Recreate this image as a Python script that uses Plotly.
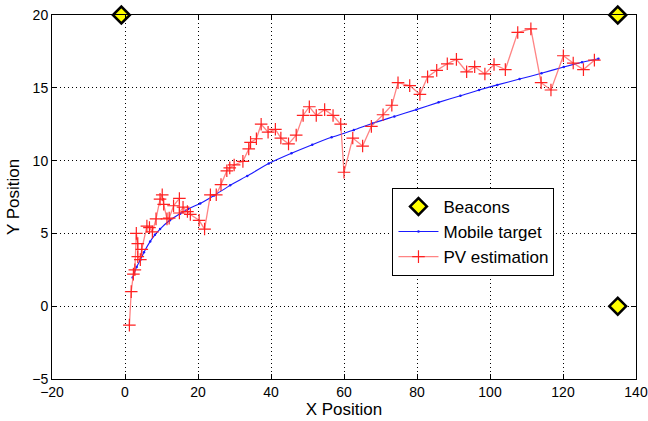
import plotly.graph_objects as go

# Beacon positions
beacon_x = [-1, 135, 135]
beacon_y = [20, 20, 0]

# True trajectory of the mobile target
target_x = [2.1, 3.2, 4.2, 5.2, 6.9, 8.2, 9.6, 12.3, 15.1, 17.3, 20.6, 24.4, 28.8, 33.5,
            39.4, 45.6, 51.3, 56.6, 62.7, 67.7, 73.8, 79.8, 85.9, 91.9, 97.0, 102.0, 108.1,
            114.1, 120.2, 125.2, 129.7]
target_y = [1.97, 2.7, 3.18, 3.7, 4.45, 4.9, 5.3, 5.9, 6.35, 6.68, 7.05, 7.6, 8.3, 8.95,
            9.8, 10.5, 11.09, 11.6, 12.1, 12.55, 13.03, 13.5, 14.0, 14.45, 14.85, 15.2,
            15.6, 16.0, 16.43, 16.75, 17.0]

# PV position estimates
pv_x = [1.2, 1.7, 2.3, 2.7, 3.1, 3.5, 3.5, 4.2, 4.6, 6.0, 6.7, 7.5, 8.5, 9.6, 10.2, 10.6,
        11.5, 12.1, 13.3, 14.9, 14.9, 15.9, 17.1, 17.9, 20.3, 21.8, 23.4, 25.0, 26.3, 27.9,
        28.7, 29.9, 32.3, 33.9, 34.4, 36.0, 37.3, 39.2, 41.2, 42.7, 44.8, 46.9, 48.8, 50.5,
        52.4, 54.7, 57.0, 59.1, 60.0, 62.4, 65.1, 67.5, 70.7, 73.1, 74.8, 78.0, 80.8, 82.9,
        85.4, 88.3, 90.8, 93.6, 95.8, 98.6, 101.1, 104.2, 107.6, 111.2, 114.0, 116.7, 120.1,
        122.8, 125.6, 128.6]
pv_y = [-1.3, 1.0, 2.2, 2.5, 5.0, 4.3, 3.4, 3.2, 3.9, 5.5, 5.4, 5.1, 6.0, 7.35, 7.65, 7.0,
        6.0, 6.05, 6.9, 7.4, 6.4, 6.8, 6.5, 6.3, 5.9, 5.3, 7.65, 7.65, 8.35, 9.3,
        9.5, 9.7, 9.95, 10.8, 11.25, 11.5, 12.5, 11.95, 12.15, 11.55, 11.15, 11.75, 13.1, 13.7,
        13.1, 13.5, 13.1, 12.5, 9.2, 11.55, 11.0, 12.35, 13.15, 13.8, 15.35, 15.15, 14.55, 15.75,
        16.2, 16.65, 16.95, 16.1, 16.45, 15.95, 16.6, 16.25, 18.8, 19.05, 15.35, 14.85, 17.2,
        16.7, 16.25, 16.9]

x_ticks = [-20, 0, 20, 40, 60, 80, 100, 120, 140]
y_ticks = [-5, 0, 5, 10, 15, 20]

FONT = "Liberation Sans, Arial, Helvetica, sans-serif"

fig = go.Figure()

fig.add_trace(go.Scatter(
    x=target_x, y=target_y, name="Mobile target", mode="lines+markers", legendrank=2,
    line=dict(color="#1a1aff", width=1.1, shape="spline", smoothing=0.6),
    marker=dict(size=2.5, color="#1a1aff"),
))

fig.add_trace(go.Scatter(
    x=pv_x, y=pv_y, name="PV estimation", mode="lines+markers", legendrank=3,
    line=dict(color="rgba(255,80,80,0.7)", width=1.3),
    marker=dict(symbol="cross-thin", size=9, line=dict(color="#ff2020", width=1.2)),
))

fig.add_trace(go.Scatter(
    x=beacon_x, y=beacon_y, name="Beacons", mode="markers", cliponaxis=False, legendrank=1,
    marker=dict(symbol="diamond", size=13, color="#ffff00",
                line=dict(color="black", width=2.5)),
))

axis_common = dict(
    showline=True, linecolor="black", linewidth=1, mirror="ticks",
    ticks="inside", ticklen=5, tickcolor="black",
    showgrid=True, gridcolor="black", gridwidth=1, griddash="1px,3px",
    zeroline=False, tickfont=dict(family=FONT, size=14, color="black"),
    ticklabeloverflow="allow", automargin=False,
)

fig.update_xaxes(range=[-20, 140], tickvals=x_ticks,
                 title=dict(text="X Position", font=dict(family=FONT, size=17, color="black"),
                            standoff=2),
                 **axis_common)
fig.update_yaxes(range=[-5, 20], tickvals=y_ticks,
                 title=dict(text="Y Position", font=dict(family=FONT, size=17, color="black"),
                            standoff=8),
                 **axis_common)

fig.update_layout(
    width=648, height=421,
    margin=dict(l=52, r=12, t=15, b=42),
    paper_bgcolor="white", plot_bgcolor="white",
    legend=dict(x=0.583, y=0.525, xanchor="left", yanchor="top",
                bgcolor="white", bordercolor="black", borderwidth=1,
                font=dict(family=FONT, size=17, color="black"),
                traceorder="normal", itemwidth=40, tracegroupgap=0),
    showlegend=True,
)

fig.write_html("out.html")
